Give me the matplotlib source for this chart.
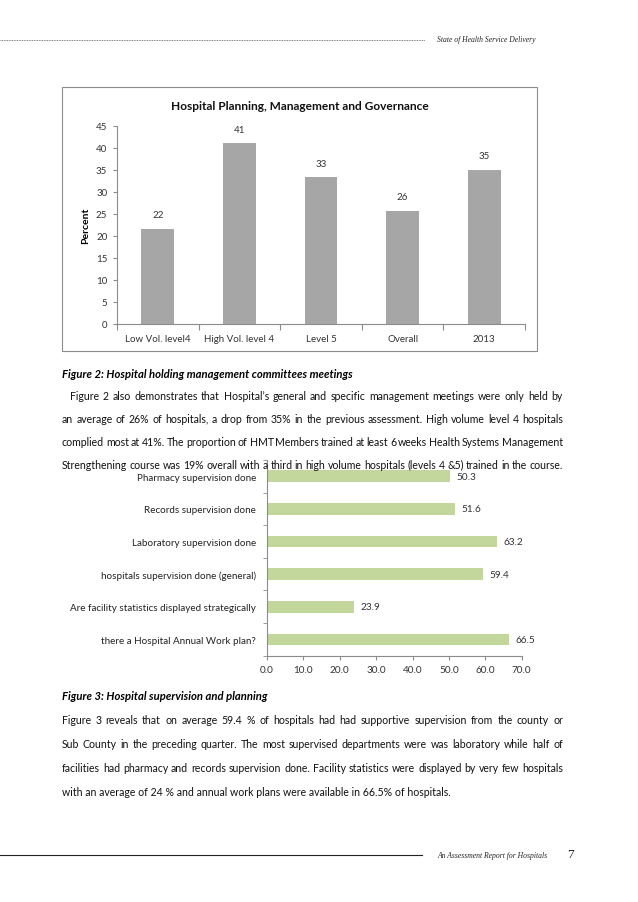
import matplotlib
matplotlib.use("Agg")
import matplotlib.pyplot as plt
from matplotlib.patches import Rectangle
from matplotlib.lines import Line2D
from matplotlib.ticker import FixedLocator, NullFormatter

# Figure 2 data
fig2_categories = ["Low Vol. level4", "High Vol. level 4", "Level 5", "Overall", "2013"]
fig2_values = [21.6, 41.0, 33.3, 25.6, 35.0]

# Figure 3 data (top to bottom)
fig3_labels = [
    "Pharmacy supervision done",
    "Records supervision done",
    "Laboratory supervision done",
    "hospitals supervision done (general)",
    "Are facility statistics displayed strategically",
    "there a Hospital Annual Work plan?",
]
fig3_values = [50.3, 51.6, 63.2, 59.4, 23.9, 66.5]
fig3_ticks = [0, 10, 20, 30, 40, 50, 60, 70]

para1 = [
    "  Figure 2 also demonstrates that Hospital\u2019s general and specific management meetings were only held by",
    "an average of 26% of hospitals, a drop from 35% in the previous assessment. High volume level 4 hospitals",
    "complied most at 41%. The proportion of HMT Members trained at least 6 weeks Health Systems Management",
    "Strengthening course was 19% overall with a third in high volume hospitals (levels 4 &5) trained in the course.",
]
para2 = [
    "Figure 3 reveals that on average 59.4 % of hospitals had had supportive supervision from the county or",
    "Sub County in the preceding quarter. The most supervised departments were was laboratory while half of",
    "facilities had pharmacy and records supervision done. Facility statistics were displayed by very few hospitals",
    "with an average of 24 % and annual work plans were available in 66.5% of hospitals.",
]

W, H = 638, 903
FONT = "Lato"
CAPTION = 8.1
plt.rcParams["font.family"] = [FONT, "DejaVu Sans"]

fig = plt.figure(figsize=(W / 100, H / 100), dpi=100)
fig.patch.set_facecolor("white")


def rect(left, top, right, bottom):
    return [left / W, 1 - bottom / H, (right - left) / W, (bottom - top) / H]


def ftext(x, y, s, **kw):
    return fig.text(x / W, 1 - y / H, s, **kw)


renderer = fig.canvas.get_renderer()


def width_of(s, **kw):
    t = ftext(0, 0, s, **kw)
    w = t.get_window_extent(renderer).width
    t.remove()
    return w


# body size: the last line of the second paragraph runs from x=62 to about x=450
BODY = 10 * 388 / width_of(para2[-1], fontsize=10)


def justify(line, x0, x1, y, last=False, **kw):
    if last:
        ftext(x0, y, line, va="center", ha="left", **kw)
        return
    words = line.split(" ")
    lead = 0
    while words and words[0] == "":
        words.pop(0)
        lead += 4
    objs = [ftext(0, y, w, va="center", ha="left", **kw) for w in words]
    widths = [o.get_window_extent(renderer).width for o in objs]
    gap = max(1.0, (x1 - x0 - lead - sum(widths)) / (len(words) - 1))
    x = x0 + lead
    for o, w in zip(objs, widths):
        o.set_x(x / W)
        x += w + gap


# ---- header / footer ----
fig.add_artist(Line2D([0, 425 / W], [1 - 41 / H] * 2, transform=fig.transFigure,
                      color="#555555", lw=0.6, ls=(0, (1, 1))))
ftext(437, 40, "State of Health Service Delivery", family="Liberation Serif",
      style="italic", fontsize=5.5, va="center", color="#222222")
fig.add_artist(Line2D([0, 422 / W], [1 - 856 / H] * 2, transform=fig.transFigure,
                      color="#222222", lw=0.8))
ftext(437, 856, "An Assessment Report for Hospitals", family="Liberation Serif",
      style="italic", fontsize=5.5, va="center", color="#222222")
ftext(567, 855, "7", family="Liberation Serif", fontsize=9.5, va="center", color="#222222")

# ---- Figure 2 chart ----
fig.add_artist(Rectangle((62 / W, 1 - 352 / H), (537 - 62) / W, (352 - 88) / H,
                         transform=fig.transFigure, fill=False, ec="#8c8c8c", lw=0.8))
ax1 = fig.add_axes(rect(117, 126.7, 525, 325))
xs = list(range(len(fig2_categories)))
ax1.bar(xs, fig2_values, width=0.4, color="#a6a6a6")
for x, v in zip(xs, fig2_values):
    ax1.annotate("%.0f" % v, (x, v), xytext=(0, 7), textcoords="offset points",
                 ha="center", va="bottom", fontsize=7, color="#333333")
ax1.set_xlim(-0.5, 4.5)
ax1.set_ylim(0, 45)
ax1.set_yticks(range(0, 46, 5))
ax1.xaxis.set_major_locator(FixedLocator([i - 0.5 for i in range(6)]))
ax1.xaxis.set_major_formatter(NullFormatter())
ax1.xaxis.set_minor_locator(FixedLocator(xs))
ax1.set_xticklabels(fig2_categories, minor=True)
ax1.tick_params(axis="x", which="major", length=4, color="#8c8c8c")
ax1.tick_params(axis="x", which="minor", length=0, pad=7, labelsize=7, labelcolor="#333333")
ax1.tick_params(axis="y", length=3, color="#8c8c8c", labelsize=7, labelcolor="#333333", pad=4)
for s in ["top", "right"]:
    ax1.spines[s].set_visible(False)
for s in ["left", "bottom"]:
    ax1.spines[s].set_color("#8c8c8c")
    ax1.spines[s].set_linewidth(0.8)
ax1.set_ylabel("Percent", fontsize=7.5, fontweight="bold", labelpad=4)
ftext(300, 106, "Hospital Planning, Management and Governance", fontsize=8.6,
      fontweight="bold", ha="center", va="center", color="#111111")

# ---- Figure 2 caption + paragraph ----
ftext(62, 375, "Figure 2: Hospital holding management committees meetings", fontsize=CAPTION,
      fontweight="bold", style="italic", va="center")
for i, line in enumerate(para1):
    justify(line, 62, 563, 397 + i * 22.7, fontsize=BODY, color="#111111")

# ---- Figure 3 chart ----
ax2 = fig.add_axes(rect(267, 461, 521.7, 656.7))
ys = list(range(len(fig3_labels)))
ax2.barh(ys, fig3_values, height=0.36, color="#c3d69b")
for y, v in zip(ys, fig3_values):
    ax2.annotate("%.1f" % v, (v, y), xytext=(4.5, 0), textcoords="offset points",
                 ha="left", va="center", fontsize=7.2, color="#333333")
ax2.set_xlim(0, 70)
ax2.set_ylim(len(fig3_labels) - 0.5, -0.5)
ax2.set_xticks(fig3_ticks)
ax2.set_xticklabels(["%.1f" % t for t in fig3_ticks])
ax2.set_yticks(ys)
ax2.set_yticklabels(fig3_labels)
ax2.yaxis.set_minor_locator(FixedLocator([i - 0.5 for i in range(len(fig3_labels) + 1)]))
ax2.tick_params(axis="y", which="major", length=0, pad=8, labelsize=7.1, labelcolor="#222222")
ax2.tick_params(axis="y", which="minor", length=3, color="#8c8c8c")
ax2.tick_params(axis="x", length=3, color="#8c8c8c", labelsize=7.2, labelcolor="#333333", pad=4)
for s in ["top", "right"]:
    ax2.spines[s].set_visible(False)
for s in ["left", "bottom"]:
    ax2.spines[s].set_color("#8c8c8c")
    ax2.spines[s].set_linewidth(0.8)

# ---- Figure 3 caption + paragraph ----
ftext(62, 697, "Figure 3: Hospital supervision and planning", fontsize=CAPTION,
      fontweight="bold", style="italic", va="center")
for i, line in enumerate(para2):
    justify(line, 62, 563, 721 + i * 24, last=(i == len(para2) - 1),
            fontsize=BODY, color="#111111")

fig.savefig("out.png", dpi=100)
